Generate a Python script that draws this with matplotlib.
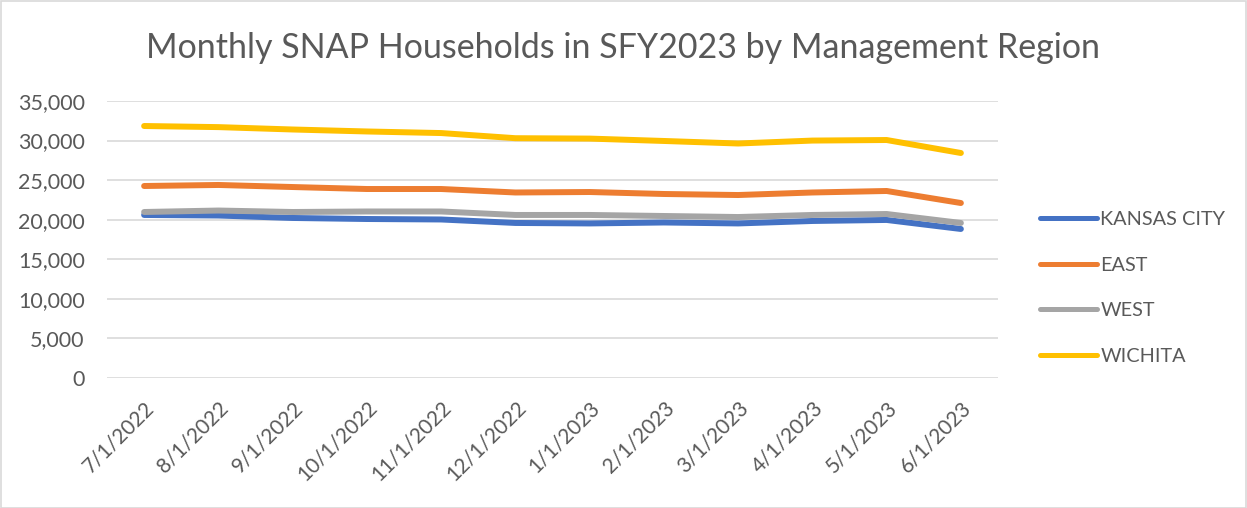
import matplotlib.pyplot as plt
from matplotlib.patches import Rectangle

plt.rcParams['font.family'] = ['Lato', 'DejaVu Sans']

months = ["7/1/2022", "8/1/2022", "9/1/2022", "10/1/2022", "11/1/2022", "12/1/2022",
          "1/1/2023", "2/1/2023", "3/1/2023", "4/1/2023", "5/1/2023", "6/1/2023"]
kansas_city = [20600, 20530, 20220, 20090, 20030, 19590, 19530, 19650, 19530, 19840, 19970, 18830]
east = [24260, 24390, 24130, 23880, 23880, 23440, 23500, 23250, 23120, 23440, 23630, 22110]
west = [20975, 21160, 20975, 21040, 21040, 20600, 20600, 20470, 20340, 20600, 20720, 19590]
wichita = [31840, 31700, 31400, 31150, 30950, 30300, 30250, 29950, 29630, 30000, 30070, 28430]

series = [("KANSAS CITY", kansas_city, "#4472C4"),
          ("EAST", east, "#ED7D31"),
          ("WEST", west, "#A5A5A5"),
          ("WICHITA", wichita, "#FFC000")]

TEXT = "#595959"

fig = plt.figure(figsize=(12.47, 5.08), dpi=100)
ax = fig.add_axes([107 / 1247, 130 / 508, 891 / 1247, 277 / 508])

x = list(range(len(months)))
for name, vals, color in series:
    ax.plot(x, vals, color=color, lw=4.3, solid_capstyle="round",
            solid_joinstyle="round", label=name)

ax.set_xlim(-0.5, len(months) - 0.5)
ax.set_ylim(0, 35000)
ax.set_yticks(range(0, 35001, 5000))
ax.set_yticklabels([f"{v:,}" for v in range(0, 35001, 5000)], fontsize=15.5)
ax.set_xticks(x)
ax.set_xticklabels(months, rotation=45, ha="right", va="top", rotation_mode="anchor",
                   fontsize=15)
ax.tick_params(axis="both", length=0, colors=TEXT)
ax.tick_params(axis="x", pad=14)
ax.tick_params(axis="y", pad=16)
ax.grid(axis="y", color="#D9D9D9", lw=1.2)
ax.set_axisbelow(True)
for sp in ax.spines.values():
    sp.set_visible(False)

fig.text(0.5, 1 - 48 / 508, "Monthly SNAP Households in SFY2023 by Management Region",
         ha="center", va="center", fontsize=24.5, color=TEXT)

leg = ax.legend(loc="center left", bbox_to_anchor=(1022 / 1247, 1 - 288 / 508),
                bbox_transform=fig.transFigure, frameon=False, fontsize=14.3,
                handlelength=2.9, handletextpad=0.15, labelspacing=1.45)
for t in leg.get_texts():
    t.set_color(TEXT)
for h in leg.get_lines():
    h.set_linewidth(3.6)

fig.patches.append(Rectangle((0.5 / 1247, 0.5 / 508), 1 - 1.5 / 1247, 1 - 1.5 / 508,
                             transform=fig.transFigure, fill=False,
                             edgecolor="#D9D9D9", lw=1.2))

fig.savefig("out.png", dpi=100, facecolor="white")
